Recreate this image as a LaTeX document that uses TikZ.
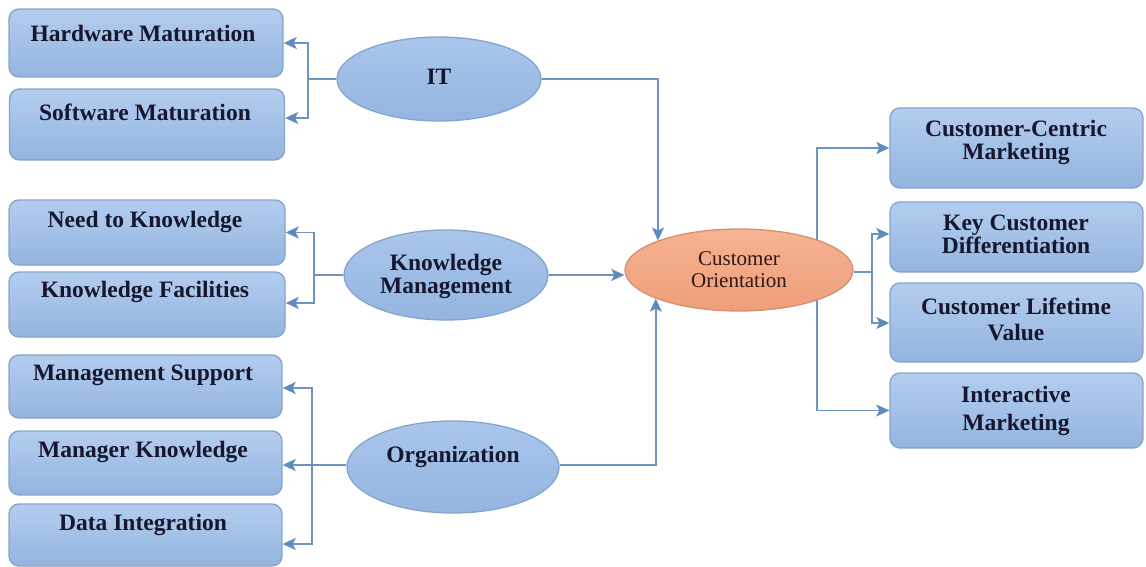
\documentclass[tikz,border=0pt]{standalone}
\usepackage{fontspec}
\setmainfont{Liberation Serif}
\usetikzlibrary{shapes.geometric,arrows.meta}
\pgfdeclarelayer{bg}
\pgfdeclarelayer{paper}
\pgfsetlayers{paper,bg,main}

\definecolor{boxtop}{HTML}{B3CDEF}
\definecolor{boxbot}{HTML}{94B4DF}
\definecolor{boxline}{HTML}{86A5CC}
\definecolor{elltop}{HTML}{A9C6EC}
\definecolor{ellbot}{HTML}{94B5E0}
\definecolor{cotop}{HTML}{F6B393}
\definecolor{cobot}{HTML}{EE9E7A}
\definecolor{coline}{HTML}{D39170}
\definecolor{txt}{HTML}{16162E}
\definecolor{cotxt}{HTML}{2E1714}
\definecolor{wire}{HTML}{6E93BE}
\definecolor{tip}{HTML}{5E8ABF}

\tikzset{
  panel/.style={draw=boxline, line width=1.4pt, rounded corners=10pt,
    top color=boxtop, bottom color=boxbot, minimum width=#1, inner sep=0pt},
  lbl/.style={text=txt, align=center, inner sep=0pt,
    font=\fontsize{23.5}{#1}\selectfont\bfseries},
  lbl/.default=23pt,
  oval/.style={ellipse, draw=boxline, line width=1.3pt, top color=elltop,
    bottom color=ellbot, inner sep=0pt, minimum width=#1},
  core/.style={ellipse, draw=coline, line width=1.3pt, top color=cotop,
    bottom color=cobot, inner sep=0pt, minimum width=228pt, minimum height=82pt,
    text=cotxt, align=center, font=\fontsize{21}{22pt}\selectfont},
  wireline/.style={draw=wire, line width=1.4pt},
  arr/.style={wireline, -{Stealth[length=13pt,width=12pt,inset=3pt,fill=tip,color=tip]}}
}

\begin{document}
\begin{tikzpicture}[x=1pt,y=-1pt]
\begin{pgfonlayer}{paper}
\fill[white] (0,0) rectangle (1146,567);
\end{pgfonlayer}
\useasboundingbox (0,0) rectangle (1146,567);

% left-hand boxes
\node[panel=274pt, minimum height=68pt] (hw) at (146,43) {};
\node[panel=275pt, minimum height=71pt] (sw) at (147,124.5) {};
\node[panel=276pt, minimum height=65pt] (nk) at (147,232.5) {};
\node[panel=276pt, minimum height=65pt] (kf) at (147,304.5) {};
\node[panel=273pt, minimum height=63pt] (ms) at (145.5,386.5) {};
\node[panel=273pt, minimum height=64pt] (mk) at (145.5,463) {};
\node[panel=273pt, minimum height=62pt] (di) at (145.5,535) {};

\node[lbl] (hwt) at (143,33) {Hardware Maturation};
\node[lbl] (swt) at (145,112) {Software Maturation};
\node[lbl] (nkt) at (145,222) {Need to Knowledge};
\node[lbl] (kft) at (145,292) {Knowledge Facilities};
\node[lbl] (mst) at (143,375) {Management Support};
\node[lbl] (mkt) at (143,452) {Manager Knowledge};
\node[lbl] (dit) at (143,525) {Data Integration};

% right-hand boxes
\node[panel=253pt, minimum height=80pt] (cc) at (1016.5,148) {};
\node[panel=253pt, minimum height=70pt] (kc) at (1016.5,237) {};
\node[panel=253pt, minimum height=79pt] (cl) at (1016.5,322.5) {};
\node[panel=253pt, minimum height=75pt] (im) at (1016.5,410.5) {};

\node[lbl] (cct) at (1016,142.5) {Customer-Centric\\Marketing};
\node[lbl] (kct) at (1016,234) {Key Customer\\Differentiation};
\node[lbl=26pt] (clt) at (1016,319) {Customer Lifetime\\Value};
\node[lbl=28pt] (imt) at (1016,411) {Interactive\\Marketing};

% ellipses
\node[oval=204pt, minimum height=84pt] (it) at (439,79) {};
\node[lbl] (itt) at (439,77) {IT};
\node[oval=204pt, minimum height=90pt] (km) at (446,275) {};
\node[lbl] (kmt) at (446,276.5) {Knowledge\\Management};
\node[oval=212pt, minimum height=92pt] (org) at (453,467) {};
\node[lbl] (orgt) at (453,457) {Organization};
\node[core] (co) at (739,270) {Customer\\Orientation};

% IT branch
\coordinate (itj) at (308,79);
\draw[wireline] (it.west) -- (itj);
\draw[arr] (itj) |- (hw.east);
\draw[arr] (itj) |- (sw.east |- 0,118);

% knowledge management branch
\coordinate (kmj) at (314,275);
\draw[wireline] (km.west) -- (kmj);
\draw[arr] (kmj) |- (nk.east);
\draw[arr] (kmj) |- (kf.east |- 0,303);

% organization branch
\coordinate (orgj) at (312,465);
\draw[wireline] (org.west |- orgj) -- (orgj);
\draw[arr] (orgj) |- (ms.east |- 0,388);
\draw[arr] (orgj) -- (mk.east |- orgj);
\draw[arr] (orgj) |- (di.east |- 0,544);

% inputs to customer orientation
\draw[arr] (it.east) -| (co.160.4);
\draw[arr] (km.east) -- (km.east -| co.west);
\draw[arr] (org.east |- orgj) -| (co.199.6);

% outputs of customer orientation (outer trunk runs behind the ellipse)
\begin{pgfonlayer}{bg}
\coordinate (coa) at (817,270);
\draw[arr] (coa) |- (cc.west);
\draw[arr] (coa) |- (im.west);
\end{pgfonlayer}
\coordinate (cob) at (872,272);
\draw[wireline] (co.east |- cob) -- (cob);
\draw[arr] (cob) |- (kc.west |- 0,234);
\draw[arr] (cob) |- (cl.west |- 0,323);
\end{tikzpicture}
\end{document}
